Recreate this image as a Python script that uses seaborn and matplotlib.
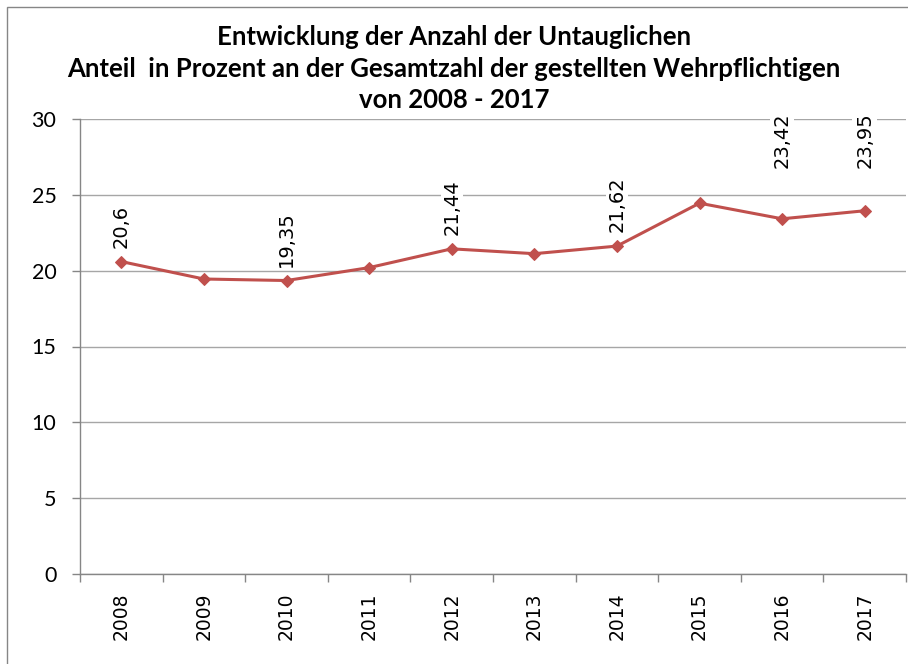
import numpy as np
import pandas as pd
import matplotlib
matplotlib.use("Agg")
import matplotlib.pyplot as plt
from matplotlib.patches import Rectangle
import seaborn as sns

# Daten
jahre = ["2008", "2009", "2010", "2011", "2012", "2013", "2014", "2015", "2016", "2017"]
anteil = [20.6, 19.45, 19.35, 20.2, 21.44, 21.12, 21.62, 24.45, 23.42, 23.95]
beschriftet = ["2008", "2010", "2012", "2014", "2016", "2017"]

df = pd.DataFrame({"jahr": jahre, "anteil": anteil})

sns.set_theme(style="white")
plt.rcParams["font.family"] = ["DejaVu Sans"]
plt.rcParams["text.color"] = "black"
plt.rcParams["xtick.color"] = "#868686"
plt.rcParams["ytick.color"] = "#868686"
plt.rcParams["xtick.labelcolor"] = "black"
plt.rcParams["ytick.labelcolor"] = "black"

fig = plt.figure(figsize=(9.08, 6.64), dpi=100)
ax = fig.add_axes([80 / 908, 1 - 574 / 664, 826 / 908, 455 / 664])

farbe = "#C0504D"
sns.lineplot(data=df, x="jahr", y="anteil", ax=ax, color=farbe, linewidth=2.2,
             marker="D", markersize=6, markeredgecolor=farbe, sort=False)

ax.set_ylim(0, 30)
ax.set_xlim(-0.5, len(jahre) - 0.5)
ax.set_yticks(np.arange(0, 31, 5))
ax.yaxis.grid(True, color="#a6a6a6", linewidth=1)
ax.set_axisbelow(True)
for s in ["top", "right"]:
    ax.spines[s].set_visible(False)
for s in ["left", "bottom"]:
    ax.spines[s].set_color("#868686")
    ax.spines[s].set_linewidth(1)

ax.set_xticks(range(len(jahre)))
ax.set_xticklabels(jahre, rotation=90, fontsize=13.5)
ax.set_xticks(np.arange(-0.5, len(jahre), 1), minor=True)
ax.tick_params(axis="x", which="major", bottom=True, length=0, pad=13)
ax.tick_params(axis="x", which="minor", bottom=True, length=5.5, width=1)
ax.tick_params(axis="y", left=True, length=6, width=1, pad=11)
for t in ax.get_yticklabels():
    t.set_fontsize(15.5)
    t.set_family(["Lato", "DejaVu Sans"])
ax.set_xlabel("")
ax.set_ylabel("")

# Datenbeschriftungen
for i, (j, v) in enumerate(zip(jahre, anteil)):
    if j not in beschriftet:
        continue
    txt = f"{v:g}".replace(".", ",")
    if j in ["2016", "2017"]:
        ax.text(i, 26.75, txt, rotation=90, ha="center", va="bottom", fontsize=14,
                bbox=dict(facecolor="white", edgecolor="none", pad=2))
    else:
        ax.annotate(txt, (i, v), xytext=(0, 10), textcoords="offset points",
                    rotation=90, ha="center", va="bottom", fontsize=14,
                    bbox=dict(facecolor="white", edgecolor="none", pad=1))

fig.text(0.5, 1 - 25 / 664,
         "Entwicklung der Anzahl der Untauglichen\n"
         "Anteil  in Prozent an der Gesamtzahl der gestellten Wehrpflichtigen\n"
         "von 2008 - 2017",
         ha="center", va="top", fontsize=18.5, fontweight="bold", linespacing=1.38,
         family=["Lato", "DejaVu Sans"])

# Rahmen
fig.patches.append(Rectangle((7 / 908, -0.1), 1.2, 1 - 7 / 664 + 0.1,
                             transform=fig.transFigure, fill=False,
                             edgecolor="#868686", linewidth=1))

fig.savefig("out.png", dpi=100)
